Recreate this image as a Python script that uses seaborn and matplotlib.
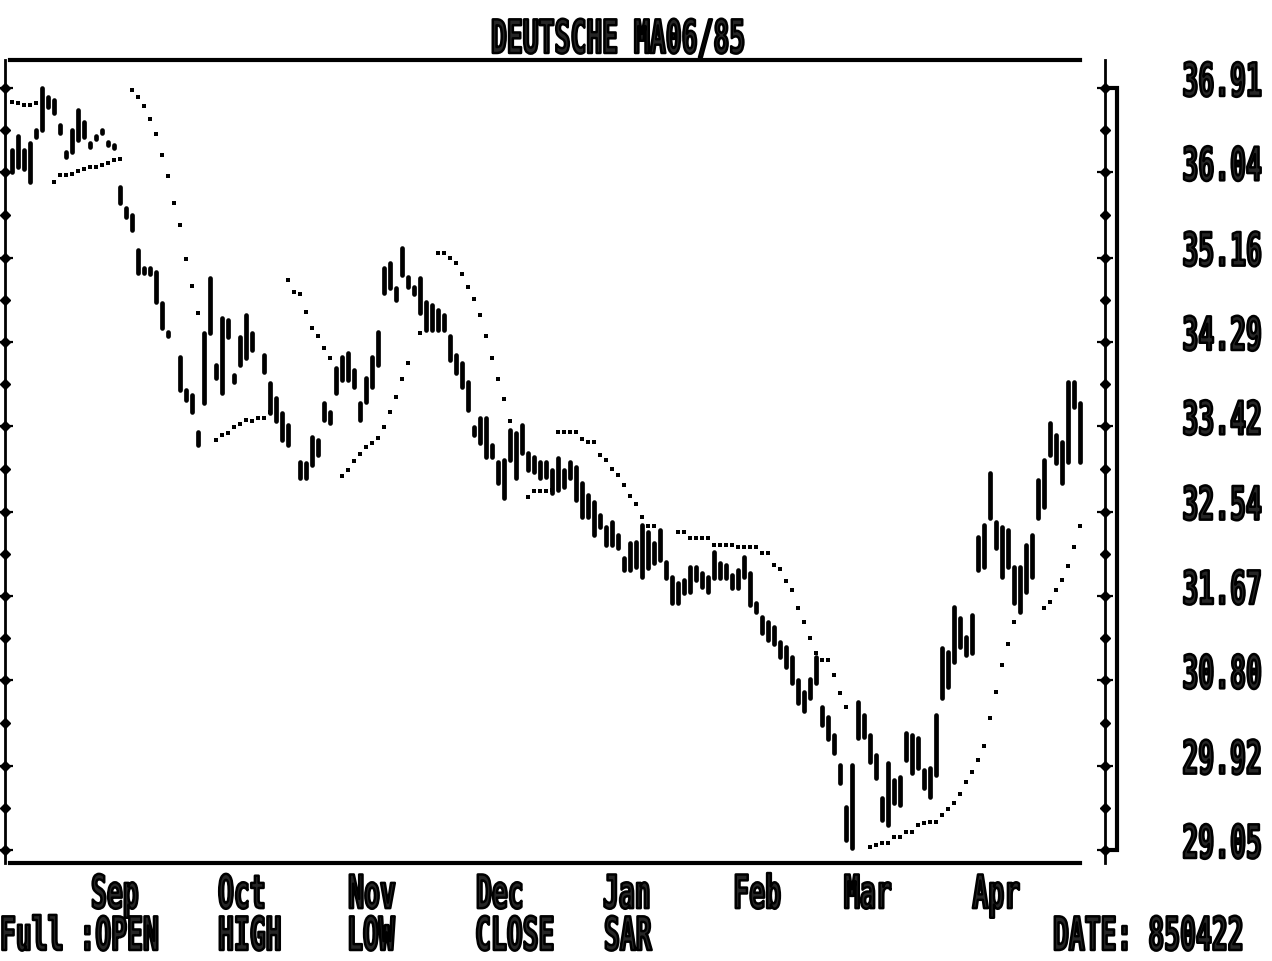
import matplotlib
matplotlib.use("Agg")
import matplotlib.pyplot as plt
import seaborn as sns
import pandas as pd
import numpy as np
from matplotlib.patheffects import AbstractPathEffect
from matplotlib.transforms import Affine2D

# trading day number, high and low of each bar
day = [2, 3, 4, 5, 6, 7, 8, 9, 10, 11, 12, 13, 14, 15, 16, 17, 18, 19, 20, 21, 22, 23, 24, 25, 26, 27, 28,
       30, 31, 32, 33, 34, 35, 36, 37, 38, 39, 40, 41, 42, 44, 45, 46, 47, 48, 50, 51, 52, 53, 54, 55, 56, 57, 58, 59, 60,
       61, 62, 63, 64, 65, 66, 67, 68, 69, 70, 71, 72, 73, 74, 75, 76, 77, 78, 79, 80, 81, 82, 83, 84, 85, 86, 87, 88, 89, 90,
       91, 92, 93, 94, 95, 96, 97, 98, 99, 100, 101, 102, 103, 104, 105, 106, 107, 108, 109, 110, 111, 112, 113, 114, 115,
       116, 117, 118, 119, 120, 121, 122, 123, 124, 125, 126, 127, 128, 129, 130, 131, 132, 133, 134, 135, 136, 137, 138,
       139, 140, 141, 142, 143, 144, 145, 146, 147, 148, 149, 150, 151, 152, 153, 154, 155, 156, 157, 158, 159, 160, 161,
       162, 163, 164, 165, 166, 167, 168, 169, 170, 171, 172, 173, 174, 175, 176, 177, 178, 179, 180]
high = [36.27, 36.41, 36.27, 36.34, 36.48, 36.91, 36.82, 36.79, 36.53, 36.25, 36.48, 36.68, 36.56, 36.34, 36.41, 36.48, 36.35, 36.32,
        35.89, 35.67, 35.60, 35.24, 35.05, 35.05, 35.01, 34.69, 34.39,
        34.14, 33.79, 33.74, 33.36, 34.38, 34.95, 34.05, 34.54, 34.52, 33.95, 34.34, 34.57, 34.38, 34.16, 33.87, 33.71, 33.56, 33.43,
        33.05, 33.04, 33.31, 33.28, 33.66, 33.57, 34.02, 34.14, 34.18, 34.00, 33.66,
        33.92, 34.14, 34.39, 35.05, 35.11, 34.85, 35.26, 34.96, 34.86, 34.95, 34.70, 34.67, 34.62, 34.57, 34.35, 34.16, 34.07, 33.88,
        33.41, 33.51, 33.51, 33.23, 33.05, 33.07, 33.38, 33.35, 33.43, 33.15, 33.10, 33.05,
        33.05, 32.97, 33.09, 32.97, 33.05, 33.00, 32.84, 32.71, 32.64, 32.51, 32.38, 32.43, 32.30, 32.06, 32.22, 32.23, 32.40, 32.33, 32.22,
        32.35, 32.02, 31.87, 31.80, 31.83, 31.97,
        31.97, 31.91, 31.87, 32.12, 32.01, 31.99, 31.89, 31.94, 32.07, 31.91, 31.60, 31.45, 31.40, 31.35, 31.20, 31.14, 31.04, 30.80, 30.68,
        30.81, 31.04, 30.52, 30.42,
        30.24, 29.93, 29.49, 29.93, 30.58, 30.44, 30.24, 30.03, 29.59, 29.95, 29.77, 29.80, 30.26, 30.24, 30.21, 29.88, 29.90, 30.44, 31.13,
        31.09, 31.56, 31.44, 31.25,
        31.47, 32.28, 32.40, 32.94, 32.43, 32.38, 32.35, 31.97, 31.97, 32.20, 32.30, 32.87, 33.07, 33.45, 33.33, 33.26, 33.88, 33.88, 33.66]
low = [36.04, 36.09, 36.07, 35.94, 36.40, 36.48, 36.71, 36.65, 36.45, 36.20, 36.25, 36.37, 36.40, 36.30, 36.38, 36.45, 36.32, 36.29,
       35.72, 35.58, 35.45, 35.00, 35.00, 34.99, 34.70, 34.43, 34.35,
       33.79, 33.69, 33.57, 33.23, 33.66, 34.38, 33.92, 33.76, 34.34, 33.88, 34.05, 34.13, 34.21, 33.98, 33.56, 33.47, 33.28, 33.23,
       32.89, 32.89, 33.02, 33.12, 33.49, 33.45, 33.76, 33.90, 33.90, 33.83, 33.49,
       33.67, 33.83, 34.05, 34.80, 34.85, 34.72, 34.98, 34.86, 34.79, 34.59, 34.41, 34.41, 34.41, 34.41, 34.10, 33.97, 33.83, 33.59,
       33.33, 33.25, 33.10, 33.10, 32.84, 32.68, 33.07, 32.89, 33.15, 32.97, 32.95, 32.89,
       32.90, 32.73, 32.76, 32.79, 32.89, 32.66, 32.48, 32.49, 32.30, 32.38, 32.20, 32.20, 32.17, 31.94, 31.94, 31.97, 31.87, 31.96, 32.01,
       32.04, 31.86, 31.60, 31.60, 31.70, 31.71,
       31.83, 31.76, 31.71, 31.86, 31.86, 31.86, 31.75, 31.75, 31.87, 31.58, 31.51, 31.29, 31.22, 31.17, 31.04, 30.94, 30.77, 30.57, 30.48,
       30.62, 30.77, 30.34, 30.19,
       30.05, 29.74, 29.15, 29.07, 30.21, 30.22, 29.96, 29.79, 29.36, 29.31, 29.53, 29.51, 29.98, 29.84, 29.90, 29.69, 29.60, 29.82, 30.62,
       30.73, 30.99, 31.14, 31.06,
       31.08, 31.94, 31.97, 32.47, 32.17, 31.87, 31.97, 31.60, 31.51, 31.71, 31.87, 32.47, 32.59, 33.12, 33.04, 32.84, 33.05, 33.62, 33.05]

# stop and reverse dots
sar_day = [2, 3, 4, 5, 6,
           9, 10, 11, 12, 13, 14, 15, 16, 17, 18, 19, 20,
           22, 23, 24, 25, 26, 27, 28, 29, 30, 31, 32, 33,
           36, 37, 38, 39, 40, 41, 42, 43, 44, 45,
           48, 49, 50, 51, 52, 53, 54, 55,
           57, 58, 59, 60, 61, 62, 63, 64, 65, 66, 67, 68, 70,
           73, 74, 75, 76, 77, 78, 79, 80, 81, 82, 83, 84, 85,
           88, 89, 90, 91, 92,
           93, 94, 95, 96, 97, 98, 99, 100, 101, 102, 103, 104, 105, 106, 107, 108, 109,
           113, 114, 115, 116, 117, 118, 119, 120, 121, 122, 123, 124, 125, 126, 127, 128,
           129, 130, 131, 132, 133, 134, 135, 136, 137, 138, 139, 140, 141,
           145, 146, 147, 148, 149, 150, 151, 152, 153, 154, 155, 156, 157, 158, 159, 160, 161, 162, 163, 164, 165, 166, 167, 168, 169,
           174, 175, 176, 177, 178, 179, 180]
sar = [36.77, 36.76, 36.73, 36.73, 36.76,
       35.94, 36.01, 36.01, 36.02, 36.05, 36.07, 36.09, 36.10, 36.12, 36.14, 36.17, 36.18,
       36.89, 36.82, 36.72, 36.59, 36.44, 36.22, 36.00, 35.72, 35.50, 35.15, 34.87, 34.59,
       33.28, 33.33, 33.35, 33.41, 33.44, 33.49, 33.48, 33.51, 33.51, 33.57,
       34.93, 34.81, 34.79, 34.60, 34.43, 34.35, 34.23, 34.13,
       32.91, 32.97, 33.06, 33.13, 33.21, 33.25, 33.30, 33.41, 33.57, 33.72, 33.91, 34.07, 34.38,
       35.21, 35.21, 35.16, 35.11, 34.99, 34.86, 34.73, 34.57, 34.35, 34.13, 33.91, 33.70, 33.48,
       32.69, 32.75, 32.75, 32.75, 32.76,
       33.36, 33.36, 33.36, 33.36, 33.29, 33.26, 33.26, 33.12, 33.07, 32.98, 32.92, 32.81, 32.70, 32.62, 32.49, 32.39, 32.39,
       32.33, 32.33, 32.27, 32.27, 32.27, 32.27, 32.20, 32.20, 32.20, 32.20, 32.18, 32.18, 32.18, 32.18, 32.11, 32.11,
       31.99, 31.95, 31.82, 31.73, 31.55, 31.40, 31.24, 31.08, 31.01, 31.01, 30.86, 30.67, 30.52,
       29.08, 29.10, 29.12, 29.12, 29.18, 29.18, 29.24, 29.24, 29.31, 29.33, 29.34, 29.34, 29.41, 29.47, 29.53, 29.63, 29.75, 29.85, 29.98,
       30.12, 30.41, 30.68, 30.96, 31.18, 31.40,
       31.55, 31.61, 31.73, 31.84, 31.98, 32.18, 32.39]

price_ticks = [36.91, 36.04, 35.16, 34.29, 33.42, 32.54, 31.67, 30.80, 29.92, 29.05]
month_days = [20.3, 39.3, 62.5, 83.3, 103.3, 125.7, 144.3, 165.7]
month_names = ["Sep", "Oct", "Nov", "Dec", "Jan", "Feb", "Mar", "Apr"]
footer = ["Full :OPEN", "HIGH", "LOW", "CLOSE", "SAR", "DATE: 850422"]
footer_x = [0, 218, 347, 475, 604, 1053]
# month names do not sit exactly under their ticks
month_shift = [-7, 6, -3, 0, 7, 3, 2, 2]


class TallText(AbstractPathEffect):
    # old screen font: narrow, very tall letters
    def __init__(self, sy=1.75, dx=0, dy=0):
        self.sy = sy
        self.dx = dx
        self.dy = dy

    def draw_path(self, renderer, gc, tpath, affine, rgbFace=None):
        gc0 = renderer.new_gc()
        gc0.copy_properties(gc)
        gc0.set_linewidth(1.8)
        gc0.set_foreground("black")
        tr = Affine2D().scale(1, self.sy) + affine + Affine2D().translate(self.dx, self.dy)
        renderer.draw_path(gc0, tpath, tr, rgbFace)
        gc0.restore()


sns.set_style("white")
plt.rcParams["font.family"] = ["DejaVu Sans Mono"]

W, H = 1272, 961
fig = plt.figure(figsize=(W / 100, H / 100), dpi=100)
ax = fig.add_axes([5 / W, 1 - 863 / H, 1100 / W, 803 / H])

bars = pd.DataFrame({"day": day, "high": high, "low": low})
ax.vlines(bars["day"], bars["low"], bars["high"], color="black", lw=3.4, capstyle="round")

dots = pd.DataFrame({"day": sar_day, "sar": sar})
sns.scatterplot(data=dots, x="day", y="sar", ax=ax, color="black", s=9, marker="s", linewidth=0, legend=False)

ax.set_xlim(5 / 6, 1105 / 6)
ax.set_ylim(29.05 - 13 / 96.95, 36.91 + 28 / 96.95)
ax.set_xlabel("")
ax.set_ylabel("")

for side in ["top", "bottom"]:
    ax.spines[side].set_visible(True)
    ax.spines[side].set_linewidth(3.0)
    ax.spines[side].set_color("black")
    ax.spines[side].set_bounds(1.7, 180)
ax.spines["left"].set_linewidth(2.0)
ax.spines["right"].set_linewidth(2.0)
ax.spines["left"].set_color("black")
ax.spines["right"].set_color("black")

ax.set_xticks(month_days)
ax.set_xticklabels(month_names)
ax.set_yticks(price_ticks)
ax.set_yticklabels([f"{p:.2f}" for p in price_ticks])
ax.tick_params(axis="x", direction="inout", length=18, width=1.5, color="black", pad=23.5, labelsize=19)
ax.tick_params(axis="y", direction="inout", length=11.5, width=1.6, color="black", pad=50, labelsize=19,
               left=True, right=True, labelleft=False, labelright=True)

for lab, shift in zip(ax.get_xticklabels(), month_shift):
    lab.set_fontweight("bold")
    lab.set_va("baseline")
    lab.set_path_effects([TallText(dx=shift)])
for lab in ax.get_yticklabels():
    lab.set_fontweight("bold")
    lab.set_va("baseline")
    lab.set_ha("left")
    lab.set_path_effects([TallText(dy=-8)])

# blobs on both y rails, and the outer rail on the right
mids = (np.array(price_ticks[:-1]) + np.array(price_ticks[1:])) / 2
rail = np.concatenate([price_ticks, mids])
for x in ax.get_xlim():
    ax.plot(np.full(len(rail), x), rail, ls="none", marker="D", ms=5.5, color="black", clip_on=False)
xr = ax.get_xlim()[1]
ax.plot([xr, xr + 2, xr + 2, xr], [price_ticks[0], price_ticks[0], price_ticks[-1], price_ticks[-1]],
        color="black", lw=3, clip_on=False, solid_joinstyle="miter")

title = fig.text(491 / W, 1 - 53 / H, "DEUTSCHE MA06/85", fontsize=19, fontweight="bold", ha="left", va="baseline")
title.set_path_effects([TallText()])
for s, px in zip(footer, footer_x):
    t = fig.text(px / W, 1 - 950 / H, s, fontsize=19, fontweight="bold", ha="left", va="baseline")
    t.set_path_effects([TallText()])

fig.savefig("out.png", dpi=100)
